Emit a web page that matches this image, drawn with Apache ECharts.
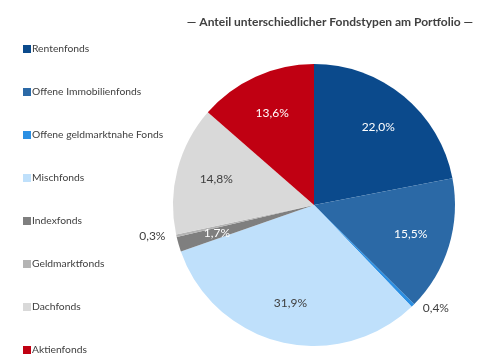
<!DOCTYPE html>
<html><head><meta charset="utf-8">
<script src="https://cdn.jsdelivr.net/npm/echarts@6/dist/echarts.min.js"></script>
<style>html,body{margin:0;padding:0;background:#fff}#c{width:485px;height:360px}</style>
</head><body><div id="c"></div>
<script>
const categories = ['Rentenfonds','Offene Immobilienfonds','Offene geldmarktnahe Fonds','Mischfonds','Indexfonds','Geldmarktfonds','Dachfonds','Aktienfonds'];
const values = [22.0, 15.5, 0.4, 31.9, 1.7, 0.3, 14.8, 13.6];
const titleText = '— Anteil unterschiedlicher Fondstypen am Portfolio —';

const colors = ['#0b4a8c','#2b69a6','#2b8fe3','#bfe0fb','#7f7f7f','#b4b4b4','#d9d9d9','#c00012'];
const labelColors = ['#ffffff','#ffffff','#404040','#404040','#ffffff','#404040','#404040','#ffffff'];
const outsideLabel = [false,false,true,false,false,true,false,false];

const fmt = v => v.toFixed(1).replace('.', ',') + '%';
const font = 'Lato, "Open Sans", sans-serif';

const chart = echarts.init(document.getElementById('c'), null, {renderer:'canvas'});
chart.setOption({
  animation:false,
  color: colors,
  title:{text:titleText,left:325,textAlign:'center',top:11,
    textStyle:{fontFamily:font,fontSize:12,fontWeight:'bold',color:'#404040'}},
  legend:{orient:'vertical',left:18,top:37,height:320,itemWidth:8,itemHeight:8,itemGap:29,
    icon:'rect',data:categories,selectedMode:false,
    textStyle:{fontFamily:font,fontSize:10.3,color:'#404040',padding:[0,0,0,-4],lineHeight:14}},
  series:[
    {type:'pie',center:[314,205],radius:141,startAngle:90,clockwise:true,silent:true,
     label:{show:false},labelLine:{show:false},
     data:categories.map((n,i)=>({name:n,value:values[i],itemStyle:{color:colors[i]}}))},
    {type:'pie',center:[314,205],radius:[55,141],startAngle:90,clockwise:true,silent:true,
     itemStyle:{color:'rgba(0,0,0,0)'},legendHoverLink:false,
     data:categories.map((n,i)=>({name:n+' ',value:values[i],
       label:{show:true,position:outsideLabel[i]?'outside':'inside',color:labelColors[i],
         fontFamily:font,fontSize:12,formatter:()=>fmt(values[i])},
       labelLine:{show:false,length:4,length2:2}}))}
  ]
});
</script></body></html>
